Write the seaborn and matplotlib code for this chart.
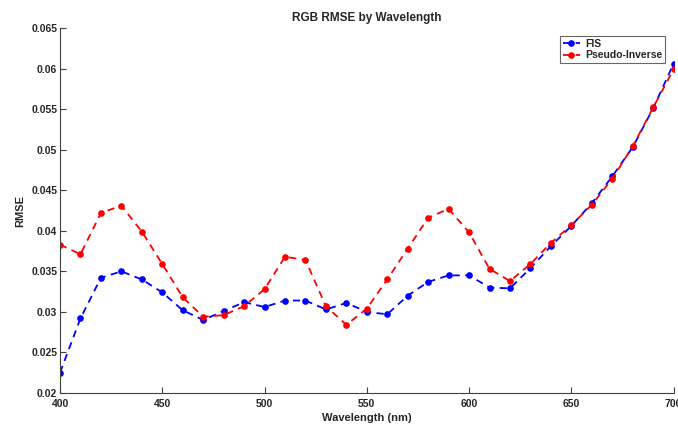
import numpy as np
import pandas as pd
import matplotlib
matplotlib.use("Agg")
import matplotlib.pyplot as plt
import seaborn as sns

wavelength = list(range(400, 701, 10))
fis = [0.0225, 0.0292, 0.0342, 0.0350, 0.0340, 0.0324, 0.0302, 0.0290, 0.0301, 0.0312,
       0.0306, 0.0314, 0.0314, 0.0303, 0.0311, 0.0300, 0.0297, 0.0320, 0.0337, 0.0345,
       0.0345, 0.0330, 0.0329, 0.0354, 0.0381, 0.0406, 0.0434, 0.0467, 0.0503, 0.0551,
       0.0606]
pinv = [0.0383, 0.0371, 0.0422, 0.0431, 0.0399, 0.0359, 0.0318, 0.0294, 0.0296, 0.0307,
        0.0328, 0.0368, 0.0364, 0.0307, 0.0284, 0.0304, 0.0340, 0.0378, 0.0416, 0.0427,
        0.0398, 0.0353, 0.0338, 0.0359, 0.0385, 0.0407, 0.0432, 0.0464, 0.0504, 0.0552,
        0.0599]
series_names = ["FIS", "Pseudo-Inverse"]
series_colors = ["#0000ff", "#ff0000"]
x_ticks = [400, 450, 500, 550, 600, 650, 700]
y_ticks = [0.02, 0.025, 0.03, 0.035, 0.04, 0.045, 0.05, 0.055, 0.06, 0.065]

df = pd.DataFrame({
    "Wavelength": wavelength * 2,
    "RMSE": fis + pinv,
    "Method": [series_names[0]] * len(fis) + [series_names[1]] * len(pinv),
})

sns.set_theme(style="ticks")
plt.rcParams["font.family"] = ["Liberation Sans", "DejaVu Sans"]
plt.rcParams["font.weight"] = "bold"

fig = plt.figure(figsize=(6.78, 4.25), dpi=100)
ax = fig.add_axes([0.0885, 0.0753, 0.905, 0.8588])

sns.lineplot(data=df, x="Wavelength", y="RMSE", hue="Method",
             palette=dict(zip(series_names, series_colors)),
             style="Method", dashes={n: (4, 3) for n in series_names},
             markers={n: "o" for n in series_names},
             markersize=4.8, markeredgewidth=0, linewidth=1.3, ax=ax)

ax.set_xlim(400, 700)
ax.set_ylim(0.02, 0.065)
ax.set_xticks(x_ticks)
ax.set_yticks(y_ticks)
ax.set_xticklabels([str(t) for t in x_ticks])
ax.set_yticklabels([f"{t:g}" for t in y_ticks])
ax.tick_params(direction="in", length=4.5, width=0.8, labelsize=7.5, color="#404040")
ax.tick_params(axis="x", pad=4)
ax.tick_params(axis="y", pad=2)
for lab in ax.get_xticklabels() + ax.get_yticklabels():
    lab.set_fontweight("bold")

for side in ["top", "right"]:
    ax.spines[side].set_visible(False)
for side in ["left", "bottom"]:
    ax.spines[side].set_color("#404040")
    ax.spines[side].set_linewidth(0.8)

ax.set_title("RGB RMSE by Wavelength", fontsize=8.5, fontweight="bold", pad=5)
ax.set_xlabel("Wavelength (nm)", fontsize=8, fontweight="bold", labelpad=3)
ax.set_ylabel("RMSE", fontsize=8, fontweight="bold", labelpad=4)

leg = ax.legend(loc="upper right", bbox_to_anchor=(0.99, 0.985), fontsize=7.5,
                frameon=True, fancybox=False, edgecolor="#404040",
                handlelength=1.6, handletextpad=0.5, borderpad=0.3,
                labelspacing=0.15, borderaxespad=0.2)
leg.get_frame().set_linewidth(0.8)
for t in leg.get_texts():
    t.set_fontweight("bold")

fig.savefig("out.png", dpi=100)
